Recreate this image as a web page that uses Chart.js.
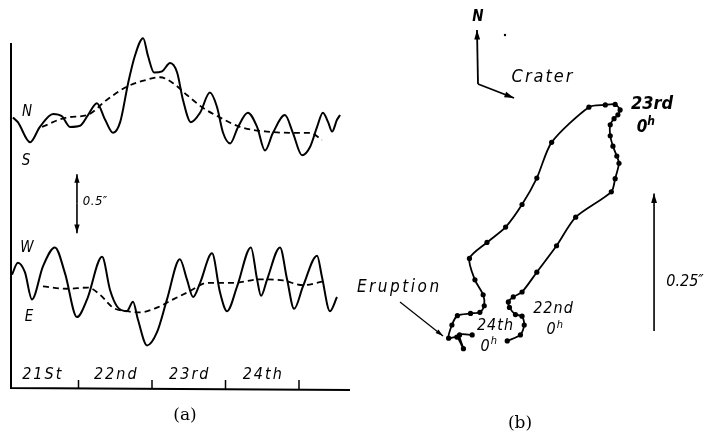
<!DOCTYPE html>
<html>
<head>
<meta charset="utf-8">
<script src="https://cdn.jsdelivr.net/npm/chart.js@4"></script>
<style>
  body { margin: 0; background: #fff; }
  canvas { position: absolute; top: 0; }
  #tilt { left: 0; }
  #path { left: 340px; }
</style>
</head>
<body>
<canvas id="tilt" width="360" height="439"></canvas>
<canvas id="path" width="369" height="439"></canvas>
<script>
// (a) tilt records, hours from 21st 0h, arcsec (offset traces)
const nsHours = [2.6, 4.2, 8.2, 11.4, 15.7, 18.6, 21.2, 24.5, 27.1, 30.0, 32.7, 35.3, 37.6, 40.2, 42.4, 45.1, 46.7, 48.7, 51.3, 53.9, 56.2, 58.1, 60.7, 63.7, 66.9, 69.2, 71.2, 73.5, 76.1, 79.3, 82.3, 84.9, 87.5, 91.4, 94.0, 97.0, 99.6, 101.9, 103.8, 105.5, 106.8, 108.4, 109.4]
const nsValues = [2.29, 2.25, 2.08, 2.21, 2.32, 2.30, 2.21, 2.22, 2.31, 2.41, 2.27, 2.16, 2.25, 2.58, 2.81, 2.96, 2.81, 2.67, 2.68, 2.75, 2.67, 2.44, 2.25, 2.33, 2.50, 2.38, 2.16, 2.07, 2.21, 2.33, 2.21, 2.01, 2.16, 2.31, 2.16, 1.97, 2.04, 2.21, 2.33, 2.25, 2.17, 2.27, 2.31]
const nsTrendHours = [12.1, 20.2, 26.8, 33.3, 39.8, 46.4, 50.6, 54.9, 59.4, 64.7, 70.2, 76.7, 85.6, 94.0, 99.6, 103.5]
const nsTrend = [2.21, 2.29, 2.31, 2.44, 2.55, 2.61, 2.63, 2.58, 2.48, 2.37, 2.29, 2.21, 2.17, 2.16, 2.16, 2.10]
const ewHours = [2.3, 4.2, 6.5, 8.8, 12.4, 16.3, 19.6, 23.5, 26.8, 31.7, 34.3, 36.6, 39.8, 41.8, 43.4, 46.4, 49.6, 52.9, 57.1, 59.4, 61.4, 63.7, 67.6, 70.2, 72.5, 75.8, 80.3, 82.3, 83.6, 85.6, 89.8, 92.1, 94.4, 97.3, 101.9, 103.5, 106.1, 108.4]
const ewValues = [0.96, 1.06, 0.98, 0.75, 1.03, 1.19, 0.97, 0.60, 0.75, 1.11, 0.83, 0.69, 0.65, 0.73, 0.58, 0.36, 0.47, 0.75, 1.09, 0.92, 0.77, 0.89, 1.14, 0.81, 0.65, 0.86, 1.19, 0.92, 0.78, 0.92, 1.19, 0.92, 0.67, 0.86, 1.12, 0.94, 0.65, 0.77]
const ewTrendHours = [12.4, 20.2, 27.1, 31.0, 35.3, 39.8, 44.1, 49.6, 54.9, 60.4, 66.0, 74.4, 83.3, 90.8, 97.3, 103.5]
const ewTrend = [0.86, 0.84, 0.85, 0.79, 0.68, 0.65, 0.64, 0.68, 0.75, 0.82, 0.89, 0.89, 0.92, 0.91, 0.87, 0.90]
const dayTicks = [24, 48, 72, 96]
const dayLabels = ['21St', '22nd', '23rd', '24th']

// (b) tilt vector path, arcsec east / north from 22nd 0h
const pathEast = [-0.004, 0.020, 0.027, 0.023, 0.011, 0.000, -0.002, 0.007, 0.023, 0.050, 0.086, 0.121, 0.186, 0.193, 0.200, 0.196, 0.189, 0.184, 0.184, 0.191, 0.198, 0.202, 0.193, 0.175, 0.145, 0.077, 0.050, 0.023, -0.007, -0.041, -0.073, -0.063, -0.048, -0.046, -0.054, -0.071, -0.095, -0.105, -0.111, -0.096, -0.084, -0.091, -0.068]
const pathNorth = [0.000, 0.011, 0.029, 0.045, 0.048, 0.061, 0.071, 0.080, 0.089, 0.125, 0.173, 0.225, 0.271, 0.295, 0.323, 0.336, 0.354, 0.373, 0.393, 0.404, 0.411, 0.420, 0.430, 0.429, 0.425, 0.361, 0.296, 0.248, 0.207, 0.179, 0.150, 0.111, 0.084, 0.064, 0.052, 0.050, 0.046, 0.029, 0.005, 0.007, -0.014, 0.011, 0.011]

const pts = (xs, ys) => xs.map((x, i) => ({x: x, y: ys[i]}))
const hand = "'Liberation Sans Narrow', 'DejaVu Sans Condensed', 'DejaVu Sans', sans-serif"

function arrow(ctx, x1, y1, x2, y2, size) {
  const a = Math.atan2(y2 - y1, x2 - x1)
  ctx.beginPath()
  ctx.moveTo(x1, y1)
  ctx.lineTo(x2, y2)
  ctx.stroke()
  ctx.beginPath()
  ctx.moveTo(x2, y2)
  ctx.lineTo(x2 - size * Math.cos(a - 0.3), y2 - size * Math.sin(a - 0.3))
  ctx.lineTo(x2 - size * Math.cos(a + 0.3), y2 - size * Math.sin(a + 0.3))
  ctx.closePath()
  ctx.fill()
}

function label(ctx, txt, x, y, font, spacing) {
  ctx.font = font
  ctx.letterSpacing = (spacing || 0) + 'px'
  ctx.textAlign = 'center'
  ctx.textBaseline = 'middle'
  ctx.fillText(txt, x + (spacing || 0) / 2, y)
  ctx.letterSpacing = '0px'
}

const tiltDeco = {
  id: 'tiltDeco',
  afterDraw(chart) {
    const ctx = chart.ctx
    const a = chart.chartArea
    const xs = chart.scales.x, ys = chart.scales.y
    ctx.save()
    ctx.strokeStyle = '#000'
    ctx.fillStyle = '#000'
    ctx.lineWidth = 2
    ctx.beginPath()
    ctx.moveTo(a.left, a.top)
    ctx.lineTo(a.left, a.bottom)
    ctx.lineTo(a.right, a.bottom + 2)
    ctx.stroke()
    ctx.lineWidth = 1.5
    dayTicks.forEach(t => {
      const px = xs.getPixelForValue(t)
      ctx.beginPath()
      ctx.moveTo(px, a.bottom + 1)
      ctx.lineTo(px, a.bottom - 8)
      ctx.stroke()
    })
    dayLabels.forEach((d, i) => {
      label(ctx, d, xs.getPixelForValue(12 + 24 * i), a.bottom - 13, 'italic 16px ' + hand, 2)
    })
    // 0.5" scale bar
    const bx = xs.getPixelForValue(23.5)
    const y1 = ys.getPixelForValue(1.31), y2 = ys.getPixelForValue(1.81)
    const ym = (y1 + y2) / 2
    ctx.lineWidth = 1.6
    arrow(ctx, bx, ym, bx, y2, 9)
    arrow(ctx, bx, ym, bx, y1, 9)
    label(ctx, '0.5\u2033', bx + 18, ym - 2, 'italic 13px ' + hand, 0.5)
    label(ctx, 'N', 27, 112, 'italic 15px ' + hand)
    label(ctx, 'S', 26, 161, 'italic 15px ' + hand)
    label(ctx, 'W', 27, 248, 'italic 15px ' + hand)
    label(ctx, 'E', 29, 317, 'italic 15px ' + hand)
    label(ctx, '(a)', 185, 416, '17px "DejaVu Serif", serif')
    ctx.restore()
  }
}

const pathDeco = {
  id: 'pathDeco',
  afterDraw(chart) {
    const ctx = chart.ctx
    const ys = chart.scales.y, xs = chart.scales.x
    const o = 340
    ctx.save()
    ctx.strokeStyle = '#000'
    ctx.fillStyle = '#000'
    ctx.lineWidth = 1.8
    // compass
    arrow(ctx, 478 - o, 84, 477 - o, 30, 10)
    arrow(ctx, 478 - o, 84, 514 - o, 98, 10)
    label(ctx, 'N', 478 - o, 17, 'italic bold 15px ' + hand)
    label(ctx, 'Crater', 542 - o, 77, 'italic 18px ' + hand, 2)
    ctx.beginPath()
    ctx.arc(505 - o, 35, 1.2, 0, Math.PI * 2)
    ctx.fill()
    // 0.25" scale bar
    const sx = xs.getPixelForValue(0.264)
    ctx.lineWidth = 1.6
    arrow(ctx, sx, ys.getPixelForValue(0.018), sx, ys.getPixelForValue(0.268), 10)
    label(ctx, '0.25\u2033', 685 - o, 282, 'italic 16px ' + hand)
    // notes
    label(ctx, '23rd', 652 - o, 104, 'italic bold 18px ' + hand)
    label(ctx, '0', 642 - o, 128, 'italic bold 17px ' + hand)
    label(ctx, 'h', 651 - o, 122, 'italic bold 12px ' + hand)
    label(ctx, '22nd', 553 - o, 309, 'italic 16px ' + hand, 1)
    label(ctx, '0', 551 - o, 330, 'italic 16px ' + hand)
    label(ctx, 'h', 560 - o, 325, 'italic 11px ' + hand)
    label(ctx, '24th', 495 - o, 326, 'italic 16px ' + hand, 1)
    label(ctx, '0', 485 - o, 347, 'italic 16px ' + hand)
    label(ctx, 'h', 494 - o, 341, 'italic 11px ' + hand)
    label(ctx, 'Eruption', 398 - o, 288, 'italic 17px ' + hand, 2.5)
    ctx.lineWidth = 1.2
    arrow(ctx, 400 - o, 302, 443 - o, 336, 8)
    label(ctx, '(b)', 520 - o, 424, '17px "DejaVu Serif", serif')
    ctx.restore()
  }
}

const quiet = {
  responsive: false,
  animation: false,
  events: [],
  plugins: { legend: { display: false }, tooltip: { enabled: false } }
}

new Chart(document.getElementById('tilt'), {
  type: 'line',
  data: {
    datasets: [
      { data: pts(nsHours, nsValues), borderColor: '#000', borderWidth: 2, pointRadius: 0, cubicInterpolationMode: 'monotone', clip: false },
      { data: pts(nsTrendHours, nsTrend), borderColor: '#000', borderWidth: 1.8, borderDash: [6, 4], pointRadius: 0, cubicInterpolationMode: 'monotone', clip: false },
      { data: pts(ewHours, ewValues), borderColor: '#000', borderWidth: 2, pointRadius: 0, cubicInterpolationMode: 'monotone', clip: false },
      { data: pts(ewTrendHours, ewTrend), borderColor: '#000', borderWidth: 1.8, borderDash: [6, 4], pointRadius: 0, cubicInterpolationMode: 'monotone', clip: false }
    ]
  },
  options: {
    ...quiet,
    layout: { padding: { left: 11, top: 43, right: 10, bottom: 51 } },
    scales: {
      x: { type: 'linear', display: false, min: 1.96, max: 112.65 },
      y: { type: 'linear', display: false, min: 0, max: 2.92 }
    }
  },
  plugins: [tiltDeco]
})

new Chart(document.getElementById('path'), {
  type: 'scatter',
  data: {
    datasets: [{
      data: pts(pathEast, pathNorth),
      showLine: true,
      tension: 0.25,
      borderColor: '#000',
      borderWidth: 1.8,
      pointRadius: 2.6,
      pointBackgroundColor: '#000',
      pointBorderWidth: 0,
      clip: false
    }]
  },
  options: {
    ...quiet,
    layout: { padding: 0 },
    scales: {
      x: { type: 'linear', display: false, min: -0.302, max: 0.357 },
      y: { type: 'linear', display: false, min: -0.171, max: 0.6125 }
    }
  },
  plugins: [pathDeco]
})
</script>
</body>
</html>
